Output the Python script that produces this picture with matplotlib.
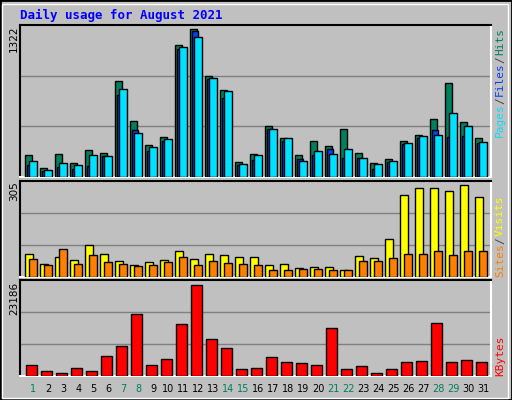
import numpy as np
import matplotlib
matplotlib.use("Agg")
import matplotlib.pyplot as plt
from matplotlib.patches import Rectangle

days = np.arange(1, 32)
weekend = [1, 7, 8, 14, 15, 21, 22, 28, 29]

hits = [200, 84, 209, 128, 245, 218, 861, 499, 290, 356, 1178, 1322, 903, 780, 137, 209,
        460, 344, 200, 326, 281, 433, 218, 128, 164, 326, 379, 514, 837, 487, 344]
files = [105, 57, 93, 75, 102, 191, 729, 417, 236, 326, 1142, 1304, 873, 704, 111, 155,
         433, 326, 164, 200, 254, 173, 173, 75, 138, 299, 352, 424, 356, 365, 308]
pages = [146, 66, 129, 111, 200, 191, 783, 389, 272, 335, 1160, 1250, 882, 768, 120, 200,
         433, 344, 146, 236, 209, 254, 173, 120, 146, 308, 362, 379, 568, 460, 317]

visits = [77, 44, 67, 57, 107, 77, 54, 41, 51, 57, 87, 60, 77, 74, 67, 67,
          41, 44, 31, 34, 34, 24, 71, 64, 127, 273, 296, 296, 286, 305, 265]
sites = [60, 41, 94, 44, 74, 51, 44, 37, 41, 51, 67, 41, 54, 47, 44, 41,
         24, 24, 27, 27, 24, 24, 54, 54, 64, 77, 77, 87, 74, 87, 87]

kbytes = [2880, 1354, 846, 2116, 1354, 5161, 7700, 15820, 2880, 4400, 13282, 23186,
          9477, 7192, 1862, 2116, 4907, 3638, 3384, 2880, 12267, 1862, 2623, 846,
          1862, 3638, 3892, 13536, 3638, 4146, 3638]

BG = "#C0C0C0"
W, H = 512, 400
fig = plt.figure(figsize=(W / 100, H / 100), dpi=100, facecolor=BG)
fig.patches.append(Rectangle((0, 0), 1, 1, transform=fig.transFigure, fill=False,
                             edgecolor="black", linewidth=2))
fig.patches.append(Rectangle((2 / W, 2 / H), (W - 6) / W, (H - 6) / H, transform=fig.transFigure,
                             fill=False, edgecolor="white", linewidth=1))


def panel(top, bottom):
    ax = fig.add_axes([20 / W, (H - bottom) / H, 471 / W, (bottom - top) / H])
    ax.set_facecolor(BG)
    ax.set_xlim(0, 31.4)
    ax.set_xticks([])
    ax.set_yticks([])
    for s in ax.spines.values():
        s.set_color("white")
        s.set_linewidth(1.5)
    ax.spines["left"].set_color("black")
    ax.spines["top"].set_color("black")
    return ax


def bars(ax, off, width, vals, color):
    ax.bar(days + off, vals, width=width, align="edge", color=color,
           edgecolor="black", linewidth=1, zorder=3)


mono = "DejaVu Sans Mono"
fig.text(20 / W, 1 - 15 / H, "Daily usage for August 2021", color="#0000FF",
         fontsize=9, fontweight="bold", family=mono, va="center")

# hits / files / pages
ax1 = panel(25, 177)
top1 = 1322 * 152 / 148
ax1.set_ylim(0, top1)
for g in (top1 / 3, 2 * top1 / 3):
    ax1.axhline(g, color="#808080", linewidth=1, zorder=1)
bars(ax1, -0.667, 0.49, hits, "#00805C")
bars(ax1, -0.556, 0.45, files, "#0040FF")
bars(ax1, -0.378, 0.49, pages, "#00E0FF")
fig.text(14 / W, 1 - 25 / H, "1322", rotation=90, ha="center", va="top", fontsize=7.5)

# sites / visits
ax2 = panel(181, 277)
top2 = 305 * 96 / 92
ax2.set_ylim(0, top2)
for g in (top2 / 3, 2 * top2 / 3):
    ax2.axhline(g, color="#808080", linewidth=1, zorder=1)
bars(ax2, -0.667, 0.55, visits, "#FFFF00")
bars(ax2, -0.4, 0.51, sites, "#FF8000")
fig.text(14 / W, 1 - 181 / H, "305", rotation=90, ha="center", va="top", fontsize=7.5)

# kbytes
ax3 = panel(280, 376)
top3 = 23186 * 96 / 91.5
ax3.set_ylim(0, top3)
for g in (top3 / 3, 2 * top3 / 3):
    ax3.axhline(g, color="#808080", linewidth=1, zorder=1)
bars(ax3, -0.6, 0.71, kbytes, "#FF0000")
fig.text(14 / W, 1 - 282 / H, "23186", rotation=90, ha="center", va="top", fontsize=7.5)

for d in days:
    fig.text((20 + (d - 0.11) * 15) / W, 1 - 389 / H, str(d), ha="center", va="center",
             fontsize=7, color="#00805C" if d in weekend else "black")


def side_label(y_bottom, parts):
    y = y_bottom
    for txt, col in parts:
        t = fig.text(500 / W, 1 - y / H, txt, rotation=90, ha="center", va="bottom",
                     fontsize=8, family=mono, color=col)
        y -= len(txt) * 6.2 + 2


side_label(137, [("Pages", "#00E0FF"), ("/", "#404040"), ("Files", "#0040FF"),
                 ("/", "#404040"), ("Hits", "#00805C")])
side_label(277, [("Sites", "#FF8000"), ("/", "#404040"), ("Visits", "#FFFF00")])
side_label(376, [("KBytes", "#FF0000")])

fig.savefig("out.png", dpi=100, facecolor=BG)
